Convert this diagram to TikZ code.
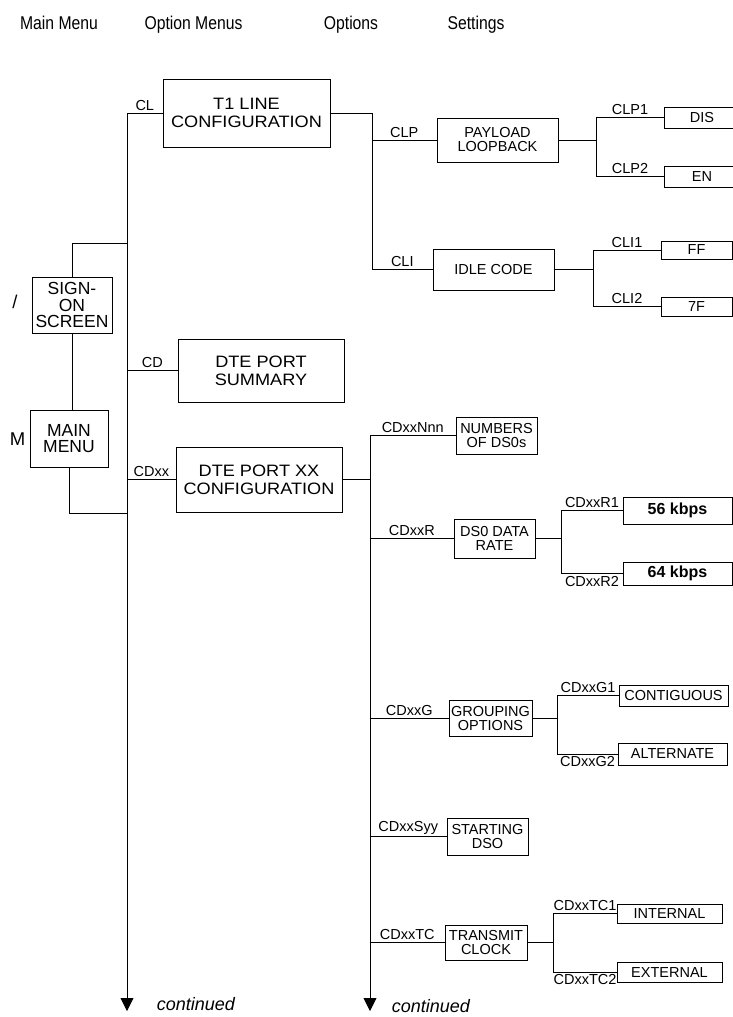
\documentclass[tikz,border=0pt]{standalone}
\usepackage{fontspec}
\setmainfont{Liberation Sans}
\newfontfamily\narrowfont[FakeStretch=0.85]{Liberation Sans}
\newfontfamily\widefont[FakeStretch=1.1]{Liberation Sans}
\usetikzlibrary{positioning,arrows.meta,calc}
\tikzstyle{box} = [draw, inner sep=0pt, align=center]
\tikzstyle{menubox} = [box, font=\fontsize{17.5}{16.5}\selectfont]
\tikzstyle{bigbox} = [box, font=\widefont\fontsize{16.5}{18}\selectfont]
\tikzstyle{optbox} = [box, font=\fontsize{14.5}{14}\selectfont]
\tikzstyle{ratebox} = [box, font=\fontsize{16}{16}\selectfont\bfseries]
\tikzstyle{code} = [font=\fontsize{14.5}{14}\selectfont, inner sep=2pt]
\tikzstyle{head} = [font=\narrowfont\fontsize{18.5}{20}\selectfont, anchor=base]
\tikzstyle{key} = [font=\fontsize{18.5}{18}\selectfont]
\tikzstyle{cont} = [font=\fontsize{18}{18}\selectfont\itshape, anchor=base west]
\tikzstyle{arrow} = [-{Triangle[length=13pt,width=13pt]}]

\begin{document}
\begin{tikzpicture}[x=1pt, y=-1pt, line width=0.85pt]
\clip (0,0) rectangle (733,1017);

% column heads
\node[head] (hmain) at (59,29.5) {Main Menu};
\node[head] (hopt) at (193.5,29.5) {Option Menus};
\node[head] (hoptions) at (351,29.5) {Options};
\node[head] (hset) at (476,29.5) {Settings};

% main menu
\node[menubox, minimum width=80pt, minimum height=56pt] (sign) at (72,305) {SIGN-\\ON\\SCREEN};
\node[menubox, minimum width=78pt, minimum height=57pt] (main) at (69,438.5) {MAIN\\MENU};
\node[key] (kslash) at (15,302) {/};
\node[key, anchor=base] (km) at (17.5,445) {M};

% option menus
\node[bigbox, minimum width=167pt, minimum height=68pt] (t1) at (246.5,113) {T1 LINE\\CONFIGURATION};
\node[bigbox, minimum width=166pt, minimum height=63pt] (cd) at (261,370.5) {DTE PORT\\SUMMARY};
\node[bigbox, minimum width=166pt, minimum height=65pt] (cdxx) at (259,479.5) {DTE PORT XX\\CONFIGURATION};

% options
\node[optbox, minimum width=121pt, minimum height=44pt] (clp) at (497.5,140) {PAYLOAD\\LOOPBACK};
\node[optbox, minimum width=121pt, minimum height=41pt] (cli) at (493.5,269.5) {IDLE CODE};
\node[optbox, minimum width=81pt, minimum height=37pt] (nds) at (496.5,435.5) {NUMBERS\\OF DS0s};
\node[optbox, minimum width=81pt, minimum height=39pt] (rate) at (494.5,538.5) {DS0 DATA\\RATE};
\node[optbox, minimum width=83pt, minimum height=36pt] (grp) at (490.5,718) {GROUPING\\OPTIONS};
\node[optbox, minimum width=81pt, minimum height=37pt] (start) at (487.5,836.5) {STARTING\\DSO};
\node[optbox, minimum width=82pt, minimum height=35pt] (tc) at (486,942.5) {TRANSMIT\\CLOCK};

% settings
\node[optbox, minimum width=76pt, minimum height=21pt] (dis) at (702,117.5) {DIS};
\node[optbox, minimum width=76pt, minimum height=21pt] (en) at (702,176.5) {EN};
\node[optbox, minimum width=71pt, minimum height=18pt] (ff) at (696.5,250) {FF};
\node[optbox, minimum width=71pt, minimum height=19pt] (sf) at (696.5,306.5) {7F};
\node[ratebox, minimum width=109pt, minimum height=27pt] (r56) at (677.5,510.5) {56 kbps};
\node[ratebox, minimum width=109pt, minimum height=23pt] (r64) at (677.5,573.5) {64 kbps};
\node[optbox, minimum width=109pt, minimum height=21pt] (contig) at (673.5,695.5) {CONTIGUOUS};
\node[optbox, minimum width=109pt, minimum height=22pt] (alt) at (672.5,754) {ALTERNATE};
\node[optbox, minimum width=105pt, minimum height=19pt] (int) at (669.5,913.5) {INTERNAL};
\node[optbox, minimum width=105pt, minimum height=20pt] (ext) at (669.5,972) {EXTERNAL};

% trunks
\coordinate (lt) at (127,0);
\coordinate (lbot) at (127,1011);
\coordinate (lsign) at (127,243);
\coordinate (lmain) at (127,513);
\coordinate (ot) at (372,0);
\coordinate (rt) at (370,0);
\coordinate (rbot) at (370,1011);

% main menu to option menus
\draw[arrow] (t1.west) -- node[code,above] {CL} (t1.west -| lt) -- (lbot);
\draw (sign.north) |- (lsign);
\draw (sign.south) -- (sign.south |- main.north);
\draw (main.south) |- (lmain);
\draw (cd.west) -- node[code,above] {CD} (cd.west -| lt);
\draw (cdxx.west) -- node[code,above] {CDxx} (cdxx.west -| lt);

% T1 line options
\draw (t1.east) -- (t1.east -| ot) -- (cli.west -| ot) -- node[code,above] {CLI} (cli.west);
\draw (clp.west -| ot) -- node[code,above] {CLP} (clp.west);

% DTE port options
\draw (cdxx.east) -- (cdxx.east -| rt);
\draw[arrow] (nds.west) -- node[code,above] {CDxxNnn} (nds.west -| rt) -- (rbot);
\draw (rate.west) -- node[code,above] {CDxxR} (rate.west -| rt);
\draw (grp.west) -- node[code,above] {CDxxG} (grp.west -| rt);
\draw (start.west) -- node[code,above] {CDxxSyy} (start.west -| rt);
\draw (tc.west) -- node[code,above] {CDxxTC} (tc.west -| rt);

% settings
\draw (clp.east) -- ++(38,0) coordinate (clpj);
\draw (dis.west) -- node[code,above] {CLP1} (dis.west -| clpj) -- (en.west -| clpj) -- node[code,above] {CLP2} (en.west);
\draw (cli.east) -- ++(39,0) coordinate (clij);
\draw (ff.west) -- node[code,above] {CLI1} (ff.west -| clij) -- (sf.west -| clij) -- node[code,above] {CLI2} (sf.west);
\draw (rate.east) -- ++(26,0) coordinate (ratej);
\draw (r56.west) -- node[code,above] {CDxxR1} (r56.west -| ratej) -- (r64.west -| ratej) -- node[code,below] {CDxxR2} (r64.west);
\draw (grp.east) -- ++(25,0) coordinate (grpj);
\draw (contig.west) -- node[code,above] {CDxxG1} (contig.west -| grpj) -- (alt.west -| grpj) -- node[code,below] {CDxxG2} (alt.west);
\draw (tc.east) -- ++(26,0) coordinate (tcj);
\draw (int.west) -- node[code,above] {CDxxTC1} (int.west -| tcj) -- (ext.west -| tcj) -- node[code,below] {CDxxTC2} (ext.west);

% continued
\node[cont] (contl) at (153,1010) {continued};
\node[cont] (contr) at (388,1012) {continued};
\end{tikzpicture}
\end{document}
